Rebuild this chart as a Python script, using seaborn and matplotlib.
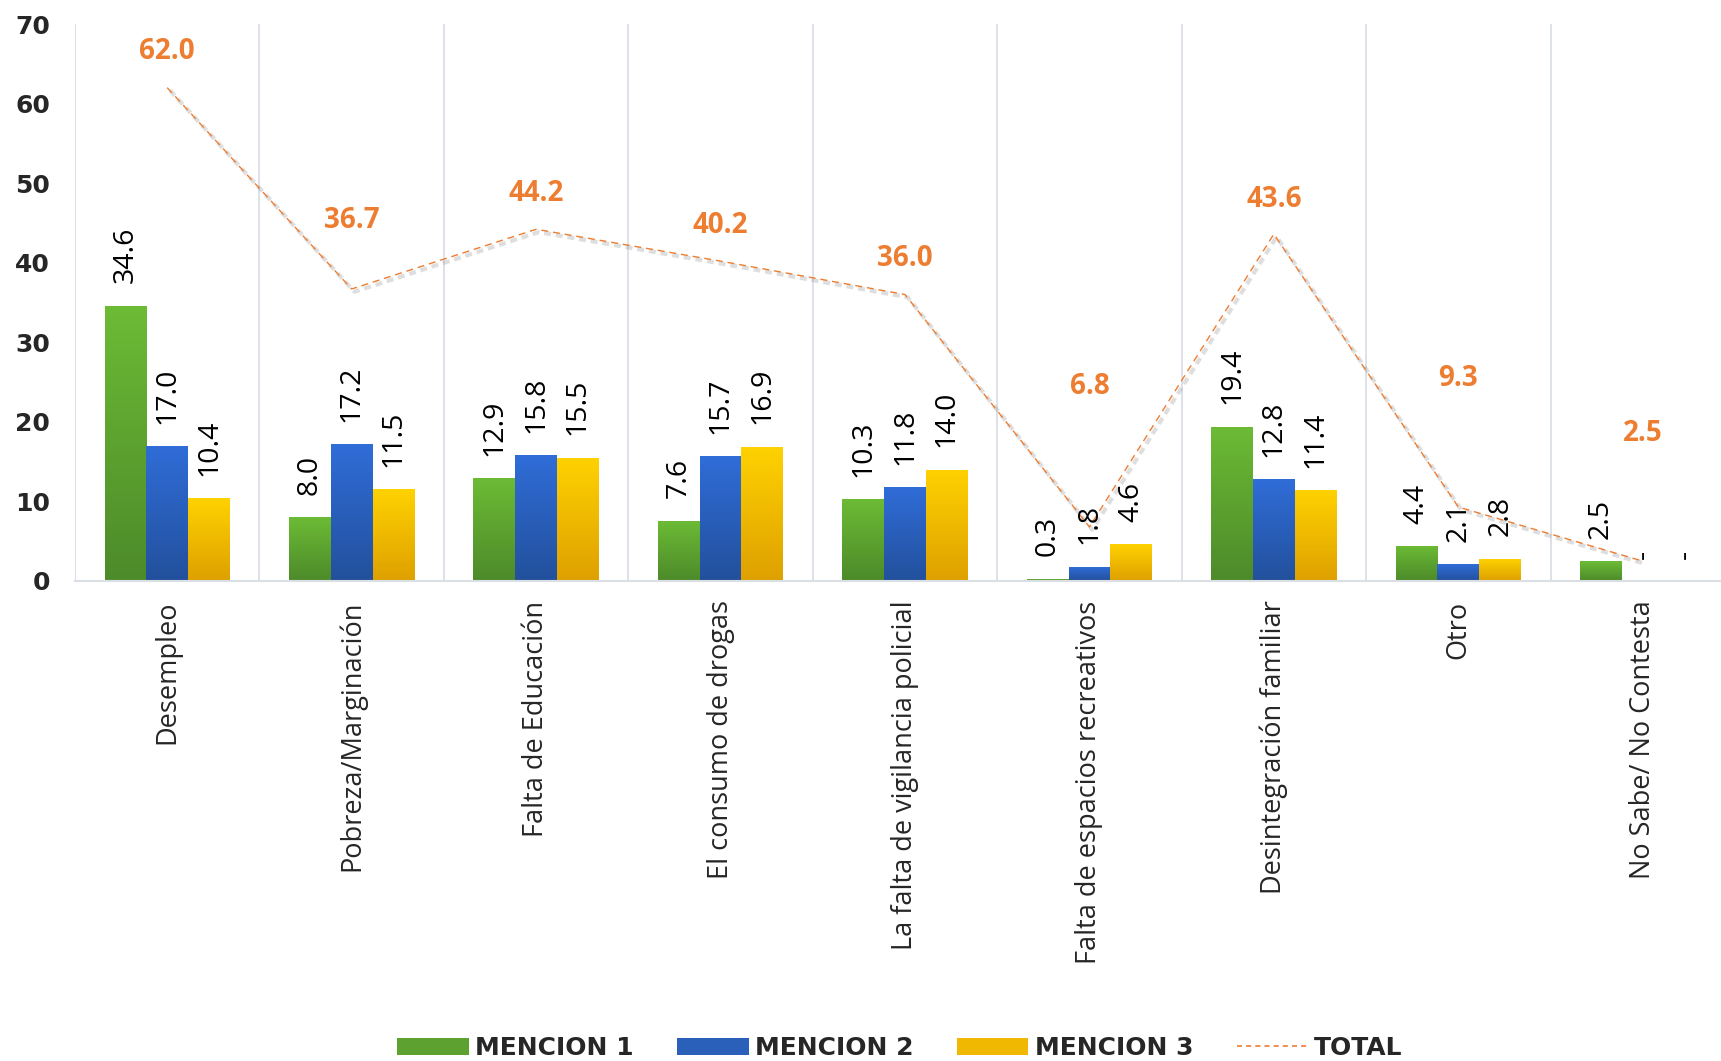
import numpy as np
import pandas as pd
import matplotlib
matplotlib.use("Agg")
import matplotlib.pyplot as plt
import seaborn as sns
from matplotlib import patheffects as pe
from matplotlib.lines import Line2D
from matplotlib.patches import Patch
from matplotlib.colors import LinearSegmentedColormap

# ---------------- data ----------------
categories = ["Desempleo", "Pobreza/Marginación", "Falta de Educación",
              "El consumo de drogas", "La falta de vigilancia policial",
              "Falta de espacios recreativos", "Desintegración familiar",
              "Otro", "No Sabe/ No Contesta"]
mencion1 = [34.6, 8.0, 12.9, 7.6, 10.3, 0.3, 19.4, 4.4, 2.5]
mencion2 = [17.0, 17.2, 15.8, 15.7, 11.8, 1.8, 12.8, 2.1, 0.0]
mencion3 = [10.4, 11.5, 15.5, 16.9, 14.0, 4.6, 11.4, 2.8, 0.0]
total = [62.0, 36.7, 44.2, 40.2, 36.0, 6.8, 43.6, 9.3, 2.5]
series_names = ["MENCION 1", "MENCION 2", "MENCION 3"]
total_name = "TOTAL"
y_ticks = [0, 10, 20, 30, 40, 50, 60, 70]
# placement (data units) of the TOTAL value labels, as in the reference
total_label_y = [66.5, 45.3, 48.7, 44.7, 40.5, 24.4, 48.0, 25.4, 18.5]

# ---------------- style ----------------
grad_colors = {  # (top, bottom)
    "MENCION 1": ("#6CBB35", "#4D8A2A"),
    "MENCION 2": ("#306DD8", "#22509C"),
    "MENCION 3": ("#FFD200", "#DEA000"),
}
mid_colors = {"MENCION 1": "#5DA230", "MENCION 2": "#2A5FBA", "MENCION 3": "#F0B800"}
orange = "#ED7D31"
grid_color = "#DADFE6"

df = pd.DataFrame({
    "categoria": categories * 3,
    "valor": mencion1 + mencion2 + mencion3,
    "serie": sum([[s] * len(categories) for s in series_names], []),
})

sns.set_style("white")
fig = plt.figure(figsize=(17.21, 10.61), dpi=100)
ax = fig.add_axes([75 / 1721, 1 - 581 / 1061, (1735 - 75) / 1721, (581 - 24) / 1061])

sns.barplot(data=df, x="categoria", y="valor", hue="serie", order=categories,
            hue_order=series_names, palette=mid_colors, width=0.68,
            saturation=1, ax=ax, legend=False, errorbar=None)

# gradient fill in each bar
for cont, name in zip(ax.containers, series_names):
    top, bottom = grad_colors[name]
    cmap = LinearSegmentedColormap.from_list(name, [bottom, top])
    for patch in cont.patches:
        h = patch.get_height()
        if h <= 0:
            continue
        x0, w = patch.get_x(), patch.get_width()
        im = ax.imshow(np.linspace(0, 1, 256).reshape(-1, 1), extent=[x0, x0 + w, 0, h],
                       origin="lower", aspect="auto", cmap=cmap, zorder=2.1)
        im.set_clip_path(patch)

# bar value labels
for cont in ax.containers:
    for patch in cont.patches:
        h = patch.get_height()
        txt = f"{h:.1f}" if h > 0 else "-"
        ax.annotate(txt, (patch.get_x() + patch.get_width() / 2, h),
                    xytext=(0, 16), textcoords="offset points", rotation=90,
                    ha="center", va="bottom", fontsize=20.5, family="Open Sans",
                    color="black", zorder=5)

# TOTAL line
sns.lineplot(x=categories, y=total, ax=ax, color=orange, linewidth=1.0,
             sort=False, zorder=4,
             path_effects=[pe.SimpleLineShadow(offset=(2, -2), shadow_color="#7f7f7f", alpha=0.25, linewidth=3),
                           pe.Normal()])
for ln in ax.lines:
    ln.set_dashes((5, 3.5))

for i, (v, ly) in enumerate(zip(total, total_label_y)):
    ax.text(i, ly, f"{v:.1f}", ha="center", va="center", color=orange,
            fontsize=20, fontweight="bold", family="Open Sans", zorder=6)

# axes styling
ax.set_xlim(-0.5, len(categories) - 0.5)
ax.set_ylim(0, 70)
ax.set_yticks(y_ticks)
ax.set_yticklabels([str(t) for t in y_ticks], fontsize=18, fontweight="bold",
                   family="DejaVu Sans")
ax.set_xticks(range(len(categories)))
ax.set_xticklabels(categories, rotation=90, fontsize=19.5, family="Open Sans",
                   va="top", ha="center")
ax.tick_params(axis="y", length=0, pad=18)
ax.tick_params(axis="x", length=0, pad=14)
ax.set_xlabel("")
ax.set_ylabel("")
for b in np.arange(-0.5, len(categories) + 0.5, 1.0):
    ax.axvline(b, color=grid_color, lw=1.3, zorder=0)
for s in ["top", "right", "left"]:
    ax.spines[s].set_visible(False)
ax.spines["bottom"].set_color(grid_color)
ax.spines["bottom"].set_linewidth(1.5)

# legend
handles = [Patch(facecolor=mid_colors[s], edgecolor="none") for s in series_names]
handles.append(Line2D([0], [0], color=orange, lw=1.2, dashes=(3, 2.5)))
labels = series_names + [total_name]
fig.legend(handles, labels, loc="center", bbox_to_anchor=(0.523, 1 - 1048 / 1061),
           ncol=4, frameon=False, prop={"family": "DejaVu Sans", "weight": "bold", "size": 18},
           handlelength=2.85, handleheight=0.65, handletextpad=0.25, columnspacing=1.75)

fig.savefig("out.png", dpi=100)
